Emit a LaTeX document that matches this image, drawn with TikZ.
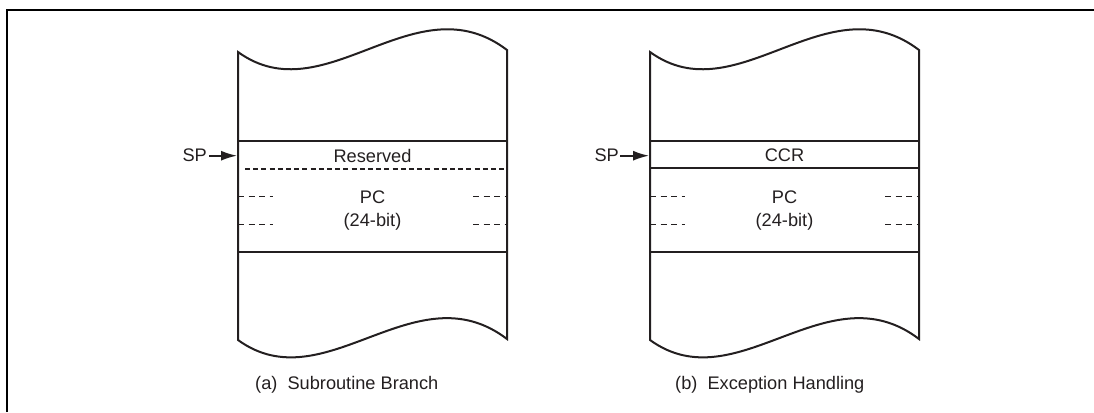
\documentclass[tikz,border=0pt]{standalone}
\usepackage{fontspec}
\setmainfont{Liberation Sans}
\usetikzlibrary{arrows.meta}
\definecolor{ink}{HTML}{231F20}
\begin{document}
\begin{tikzpicture}[x=1pt,y=-1pt,
  txt/.style={inner sep=0pt,text=ink,font=\fontsize{18.2}{22}\selectfont},
  boxline/.style={draw=ink,line width=2pt},
  sdash/.style={draw=ink,line width=1pt,dash pattern=on 6pt off 4.5pt},
  ldash/.style={draw=ink,line width=2pt,dash pattern=on 5pt off 3.2pt},
  sparrow/.style={draw=ink,line width=1.6pt,-{Latex[length=16pt,width=10pt]}}]
\useasboundingbox (0,0) rectangle (1094,412);
% outer frame
\draw[draw=black,line width=2.4pt] (7,412) -- (7,10) -- (1094,10);
% ---------- (a) ----------
\begin{scope}
\draw[boxline,line join=miter] (238,52) .. controls (325,115) and (415,-20) .. (507,50)
  -- (507,339) .. controls (415,269) and (325,403) .. (238,340) -- cycle;
\draw[boxline] (238,140.7) -- (507,140.7);
\draw[boxline] (238,252.3) -- (507,252.3);
\draw[ldash] (245,169) -- (507,169);
\draw[sdash] (238,196.7) -- (273,196.7);
\draw[sdash] (238,224.3) -- (273,224.3);
\draw[sdash] (473,196.7) -- (507,196.7);
\draw[sdash] (473,224.3) -- (507,224.3);
\node[txt] (resv) at (372.5,155.5) {Reserved};
\node[txt] (pca) at (372.5,197.5) {PC};
\node[txt] (bita) at (372.5,222) {(24-bit)};
\node[txt,anchor=east] (spa) at (207,155.7) {SP};
\coordinate (spta) at (237,155.7);
\draw[sparrow] ([xshift=2pt]spa.east) -- (spta);
\node[txt,anchor=west] (capa) at (255,385) {(a)\hspace{0.556em}Subroutine Branch};
\end{scope}
% ---------- (b) ----------
\begin{scope}[xshift=412pt]
\draw[boxline,line join=miter] (238,52) .. controls (325,115) and (415,-20) .. (507,50)
  -- (507,339) .. controls (415,269) and (325,403) .. (238,340) -- cycle;
\draw[boxline] (238,140.7) -- (507,140.7);
\draw[boxline] (238,168.3) -- (507,168.3);
\draw[boxline] (238,252.3) -- (507,252.3);
\draw[sdash] (238,196.7) -- (273,196.7);
\draw[sdash] (238,224.3) -- (273,224.3);
\draw[sdash] (473,196.7) -- (507,196.7);
\draw[sdash] (473,224.3) -- (507,224.3);
\node[txt] (ccr) at (372.5,155) {CCR};
\node[txt] (pcb) at (372.5,197.5) {PC};
\node[txt] (bitb) at (372.5,222) {(24-bit)};
\node[txt,anchor=east] (spb) at (207,155.7) {SP};
\coordinate (sptb) at (237,155.7);
\draw[sparrow] ([xshift=1pt]spb.east) -- (sptb);
\node[txt,anchor=west] (capb) at (263,385) {(b)\hspace{0.556em}Exception Handling};
\end{scope}
\end{tikzpicture}
\end{document}
